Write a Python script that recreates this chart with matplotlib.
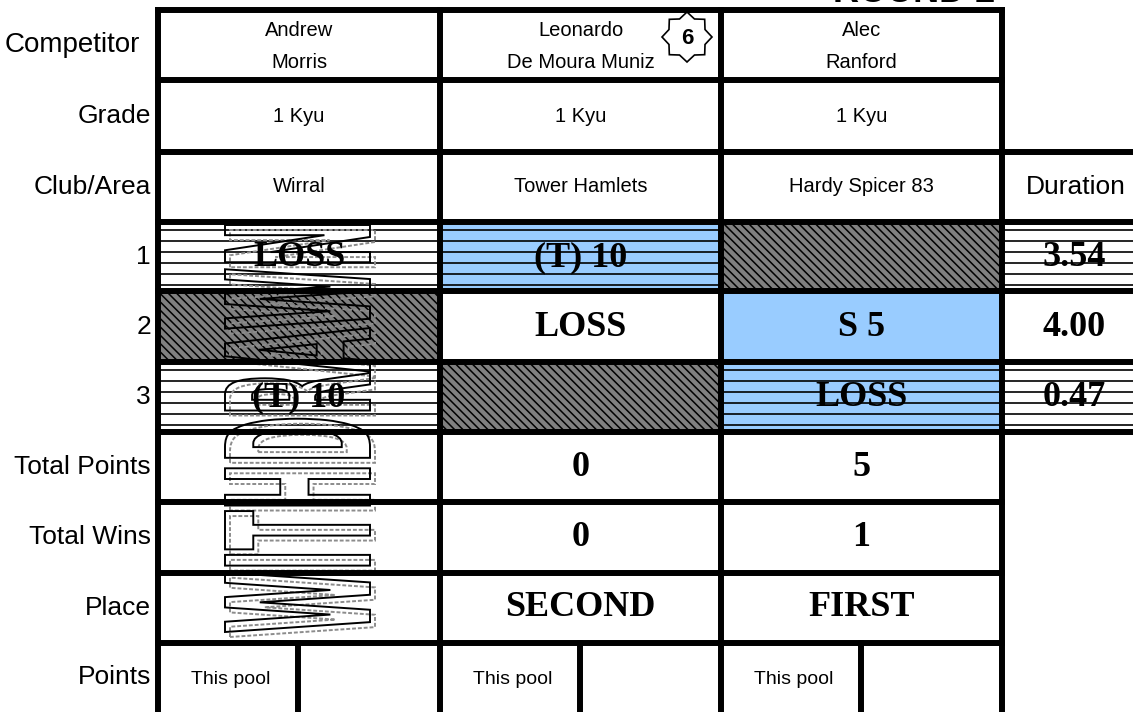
import numpy as np
import matplotlib
matplotlib.use("Agg")
from matplotlib import pyplot as plt
from matplotlib.patches import Rectangle, Polygon, PathPatch
from matplotlib.textpath import TextPath
from matplotlib.font_manager import FontProperties
import matplotlib.transforms as mtransforms

### data

round_title = "ROUND 2"
pool_number = "6"
watermark = "WITHDRAWN"

row_labels = ["Competitor", "Grade", "Club/Area", "1", "2", "3",
              "Total Points", "Total Wins", "Place", "Points"]
first_names = ["Andrew", "Leonardo", "Alec"]
last_names = ["Morris", "De Moura Muniz", "Ranford"]
grades = ["1 Kyu", "1 Kyu", "1 Kyu"]
clubs = ["Wirral", "Tower Hamlets", "Hardy Spicer 83"]

bout_results = [["LOSS", "(T) 10", ""],
                ["", "LOSS", "S 5"],
                ["(T) 10", "", "LOSS"]]
bout_fills = [["white", "blue", "hatch"],
              ["hatch", "white", "blue"],
              ["white", "hatch", "blue"]]
striped_bouts = [True, False, True]
durations = ["3.54", "4.00", "0.47"]

total_points = ["", "0", "5"]
total_wins = ["", "0", "1"]
places = ["", "SECOND", "FIRST"]
points_note = "This pool"

### layout (pixels, y down)

W, H = 1133, 712
col_x = [158, 440, 721, 1002]          # competitor column borders
dur_right = W                          # duration column runs off the page
row_y = [10, 80, 152, 222, 291, 362, 432, 502, 573, 643, H]
sub_dx = 140                           # "This pool" sub cell width
LW = 4.3

fills = {"white": "white", "blue": "#99CCFF", "hatch": "#808080"}
plt.rcParams["hatch.linewidth"] = 1.1

fig = plt.figure(figsize=(W / 100, H / 100), dpi=100)
ax = fig.add_axes([0, 0, 1, 1])
ax.set_xlim(0, W)
ax.set_ylim(H, 0)
ax.axis("off")

sans = "Liberation Sans"
serif = "Liberation Serif"


def cell_centre(c, r):
    return (col_x[c] + col_x[c + 1]) / 2, (row_y[r] + row_y[r + 1]) / 2


# bout rows: fills, hatches, stripes
for i in range(3):
    r = 3 + i
    top, bot = row_y[r], row_y[r + 1]
    cells = [(col_x[c], col_x[c + 1], bout_fills[i][c]) for c in range(3)]
    cells.append((col_x[3], dur_right, "white"))
    for x0, x1, kind in cells:
        if kind == "hatch":
            ax.add_patch(Rectangle((x0, top), x1 - x0, bot - top, facecolor=fills[kind],
                                   edgecolor="black", lw=0, hatch="\\\\\\\\"))
        else:
            ax.add_patch(Rectangle((x0, top), x1 - x0, bot - top, facecolor=fills[kind], lw=0))
            if striped_bouts[i]:
                ys = top + 8 + 11 * np.arange(6)
                ax.hlines(ys, x0, x1, color="black", lw=1.2)

# watermark, outlined and stretched, reading bottom to top
tp = TextPath((0, 0), watermark, size=100, prop=FontProperties(family="DejaVu Sans", weight="bold"))
ext = tp.get_extents()
for dx, dy, colr, ls in [(5, 5, "#8c8c8c", (0, (2, 1))), (0, 0, "black", "-")]:
    x_right, y_bottom, wx, wy = 370 + dx, 632 + dy, 145, 407
    m = np.array([[0, -wx / ext.height, x_right + ext.y0 * wx / ext.height],
                  [-wy / ext.width, 0, y_bottom + ext.x0 * wy / ext.width],
                  [0, 0, 1]])
    path = mtransforms.Affine2D(m).transform_path(tp)
    ax.add_patch(PathPatch(path, fill=False, edgecolor=colr, lw=1.4, linestyle=ls, zorder=3))

# grid lines
def hline(y, x0, x1):
    ax.plot([x0, x1], [y, y], color="black", lw=LW, solid_capstyle="projecting", zorder=4)


def vline(x, y0, y1):
    ax.plot([x, x], [y0, y1], color="black", lw=LW, solid_capstyle="projecting", zorder=4)


for r, y in enumerate(row_y[:-1]):
    right = dur_right if 2 <= r <= 6 else col_x[-1]
    hline(y, col_x[0], right)
for x in col_x:
    vline(x, row_y[0], H + 5)
for c in range(3):
    vline(col_x[c] + sub_dx, row_y[9], H + 5)

# row labels
ax.text(5, cell_centre(0, 0)[1], row_labels[0], fontsize=20, family=sans, ha="left", va="center")
for r in range(1, len(row_labels)):
    ax.text(151, cell_centre(0, r)[1], row_labels[r], fontsize=19, family=sans,
            ha="right", va="center")
ax.text((col_x[3] + dur_right) / 2 + 8, cell_centre(0, 2)[1], "Duration", fontsize=19,
        family=sans, ha="center", va="center")

# header cells
for c in range(3):
    x, _ = cell_centre(c, 0)
    ax.text(x, 31, first_names[c], fontsize=14.5, family=sans, ha="center", va="center")
    ax.text(x, 63, last_names[c], fontsize=14.5, family=sans, ha="center", va="center")
    ax.text(x, cell_centre(c, 1)[1], grades[c], fontsize=14.5, family=sans, ha="center", va="center")
    ax.text(x, cell_centre(c, 2)[1], clubs[c], fontsize=14.5, family=sans, ha="center", va="center")

bold = dict(fontsize=26, family=serif, weight="bold", ha="center", va="center", zorder=5)
for i in range(3):
    for c in range(3):
        x, y = cell_centre(c, 3 + i)
        ax.text(x, y + 1, bout_results[i][c], **bold)
    ax.text((col_x[3] + dur_right) / 2 + 7, cell_centre(0, 3 + i)[1] + 1, durations[i], **bold)

for c in range(3):
    x, _ = cell_centre(c, 0)
    ax.text(x, cell_centre(c, 6)[1], total_points[c], **bold)
    ax.text(x, cell_centre(c, 7)[1], total_wins[c], **bold)
    ax.text(x, cell_centre(c, 8)[1], places[c], **bold)
    ax.text(col_x[c] + sub_dx / 2 + 3, cell_centre(c, 9)[1] + 2, points_note, fontsize=14,
            family=sans, ha="center", va="center")

# pool badge
cx, cy = 687, 37
ang = np.pi / 2 + np.arange(16) * np.pi / 8
rad = np.where(np.arange(16) % 2 == 0, 25, 19.5)
ax.add_patch(Polygon(np.column_stack([cx + rad * np.cos(ang), cy - rad * np.sin(ang)]),
                     closed=True, facecolor="white", edgecolor="black", lw=1.2, zorder=6))
ax.text(cx, cy + 1, pool_number, fontsize=16, family=sans, weight="bold",
        ha="center", va="center", zorder=7)

# title, mostly off the top edge as in the scan
ax.text(833, 2.5, round_title, fontsize=26, family=sans, weight="bold", ha="left", va="baseline")

fig.savefig("out.png", dpi=100)
